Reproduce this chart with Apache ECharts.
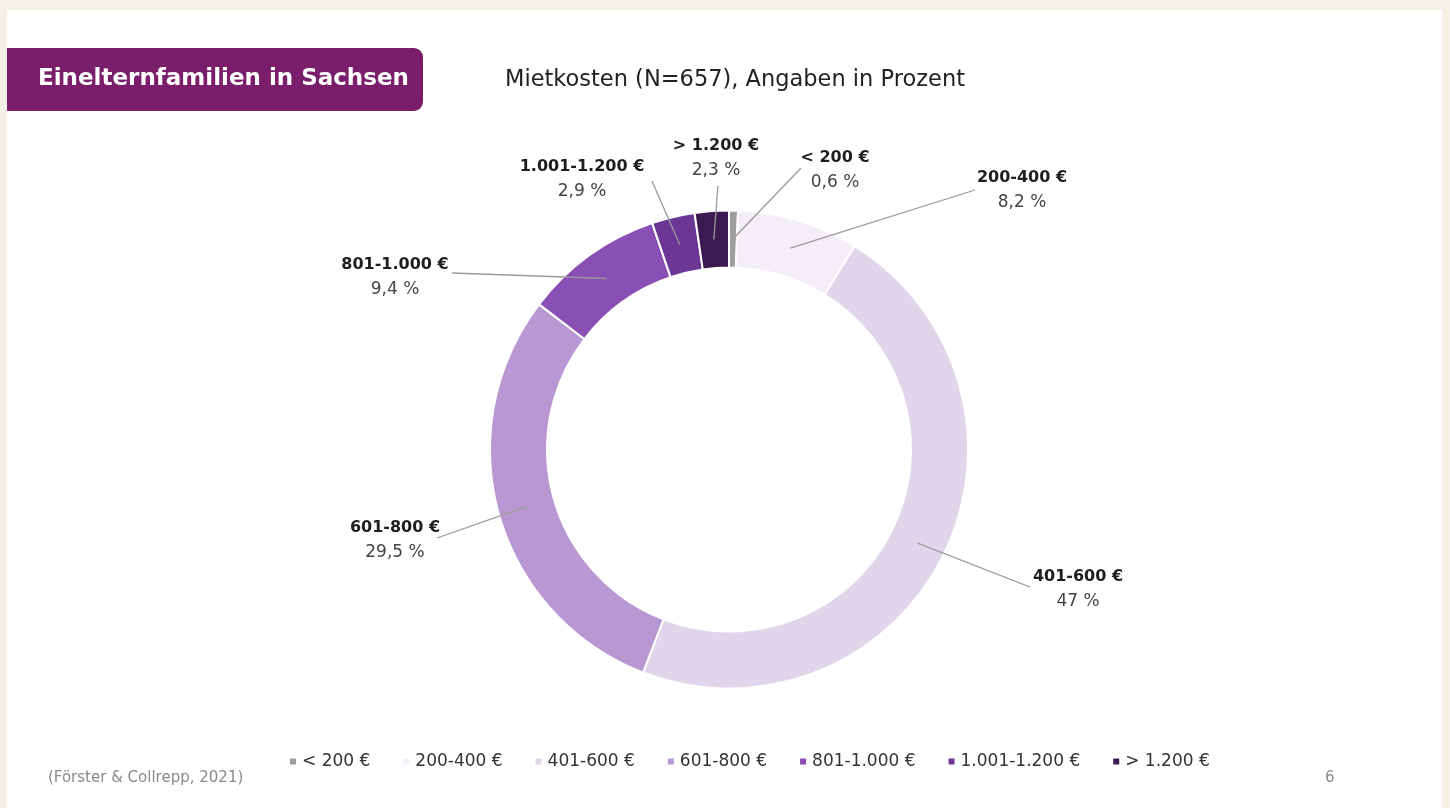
<!DOCTYPE html>
<html>
<head>
<meta charset="utf-8">
<title>Mietkosten Einelternfamilien</title>
<script src="https://cdn.jsdelivr.net/npm/echarts@6/dist/echarts.min.js"></script>
<style>
    html, body { margin: 0; padding: 0; background: #f4f2e6; }
    #chart { width: 1450px; height: 808px; }
</style>
</head>
<body>
<div id="chart"></div>
<script>
// Kategorien und Anteile (Prozent)
var categories = ['< 200 €', '200-400 €', '401-600 €', '601-800 €', '801-1.000 €', '1.001-1.200 €', '> 1.200 €'];
var shares = [0.6, 8.2, 47, 29.5, 9.4, 2.9, 2.3];
var colors = ['#9e9e9e', '#f3eef7', '#e1d5ec', '#b897d2', '#8a4fb4', '#6c3794', '#3a1a50'];

// Label-Positionen (Mitte des Labels) und Endpunkte der Linien
var labelPos = [[835, 170], [1022, 190], [1078, 589], [395, 540], [395, 277], [582, 179], [716, 158]];
var lineEnd = [[801, 168], [975, 190], [1030, 587], [437, 538], [452, 273], [652, 181], [718, 186]];

var cx = 729, cy = 449.5, rIn = 182, rOut = 239;
var FONT = 'DejaVu Sans, Verdana, sans-serif';

var chart = echarts.init(document.getElementById('chart'));

var ringData = [], labelData = [];
for (var i = 0; i < categories.length; i++) {
    ringData.push({ name: categories[i], value: shares[i], itemStyle: { color: colors[i] } });
    labelData.push({ name: categories[i], value: shares[i] });
}

var option = {
    backgroundColor: '#f4f2e6',
    color: colors,
    textStyle: { fontFamily: FONT },
    graphic: [
        // weisse Folie
        { type: 'rect', left: 7, top: 10, z: -10, shape: { width: 1435, height: 800 }, style: { fill: '#ffffff' } },
        // Titelbox
        { type: 'rect', left: 7, top: 48, shape: { width: 416, height: 63, r: [0, 9, 9, 0] }, style: { fill: '#7a1e6c' } },
        { type: 'text', left: 38, top: 68, style: { text: 'Einelternfamilien in Sachsen', fill: '#ffffff', font: 'bold 23px ' + FONT } },
        { type: 'text', left: 505, top: 69, style: { text: 'Mietkosten (N=657), Angaben in Prozent', fill: '#222222', font: '22.5px ' + FONT } },
        { type: 'text', left: 48, top: 771, style: { text: '(Förster & Collrepp, 2021)', fill: '#8a8a8a', font: '15px ' + FONT } },
        { type: 'text', left: 1325, top: 771, style: { text: '6', fill: '#8a8a8a', font: '15px ' + FONT } }
    ],
    legend: {
        data: categories,
        left: 283,
        top: 748,
        icon: 'rect',
        itemWidth: 8,
        itemHeight: 8,
        itemGap: 31,
        textStyle: { fontSize: 17, color: '#333333' }
    },
    series: [
        {
            // Ring
            type: 'pie',
            z: 2,
            center: [cx, cy],
            radius: [rIn, rOut],
            startAngle: 90,
            clockwise: true,
            silent: true,
            label: { show: false },
            labelLine: { show: false },
            itemStyle: { borderColor: '#ffffff', borderWidth: 2 },
            data: ringData
        },
        {
            // transparente Kopie fuer Beschriftungen und Linien ueber dem Ring
            type: 'pie',
            z: 5,
            center: [cx, cy],
            radius: [rIn, rOut],
            startAngle: 90,
            clockwise: true,
            silent: true,
            legendHoverLink: false,
            avoidLabelOverlap: false,
            itemStyle: { color: 'rgba(0,0,0,0)' },
            label: {
                show: true,
                position: 'outside',
                formatter: function (p) {
                    return '{b|' + p.name + '}\n{p|' + String(p.value).replace('.', ',') + ' %}';
                },
                rich: {
                    b: { fontSize: 16, fontWeight: 'bold', color: '#1e1e1e', lineHeight: 25, align: 'center', fontFamily: FONT },
                    p: { fontSize: 17, color: '#454545', lineHeight: 25, align: 'center', fontFamily: FONT }
                }
            },
            labelLine: { show: true, lineStyle: { color: '#9a9a9a', width: 1.3 } },
            labelLayout: function (params) {
                var i = params.dataIndex;
                var p0 = params.labelLinePoints[0];
                var dx = p0[0] - cx, dy = p0[1] - cy;
                var len = Math.sqrt(dx * dx + dy * dy);
                var rm = (rIn + rOut) / 2;
                var start = [cx + dx / len * rm, cy + dy / len * rm];
                return {
                    x: labelPos[i][0],
                    y: labelPos[i][1],
                    align: 'center',
                    verticalAlign: 'middle',
                    labelLinePoints: [start, lineEnd[i], lineEnd[i]]
                };
            },
            data: labelData
        }
    ]
};

chart.setOption(option);
</script>
</body>
</html>
